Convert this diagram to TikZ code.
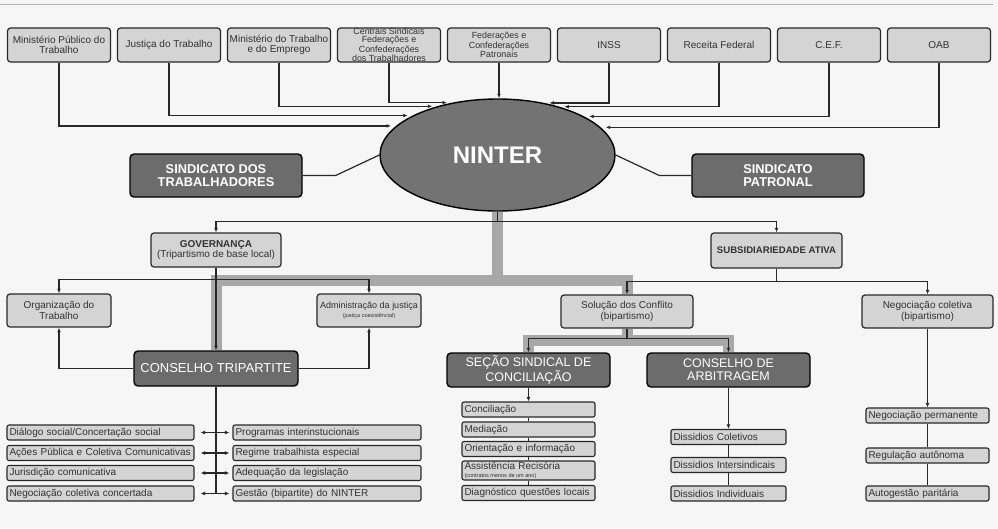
\documentclass[tikz,border=0pt]{standalone}
\usepackage{fontspec}
\setmainfont{Liberation Sans}
\usetikzlibrary{shapes.geometric,arrows.meta,positioning,calc}
\definecolor{pagebg}{RGB}{246,246,246}
\definecolor{boxlight}{RGB}{212,212,212}
\definecolor{boxdark}{RGB}{108,108,108}
\definecolor{ellipsegray}{RGB}{115,115,115}
\definecolor{bandgray}{RGB}{168,168,168}
\definecolor{linedark}{RGB}{40,40,40}
\definecolor{textdark}{RGB}{50,50,50}

\begin{document}
\begin{tikzpicture}[x=1pt, y=-1pt,
    topbox/.style={rectangle, rounded corners=3pt, draw=linedark, line width=1.2pt, fill=boxlight, text=textdark, align=center, inner sep=1pt, minimum width=103pt, minimum height=34pt, font=\fontsize{10}{10.5}\selectfont},
    tightbox/.style={topbox, inner sep=0pt, font=\fontsize{8.9}{7.8}\selectfont},
    midbox/.style={topbox, minimum height=33pt},
    darkbox/.style={rectangle, rounded corners=4pt, draw=black, line width=1.4pt, fill=boxdark, text=white, align=center, inner sep=1pt},
    listbox/.style={rectangle, rounded corners=2pt, draw=linedark, line width=1.1pt, fill=boxlight, text=textdark, align=left, inner xsep=2.5pt, inner ysep=1pt, minimum height=15pt, text width=#1, font=\fontsize{10}{11}\selectfont},
    wire/.style={draw=linedark, line width=1.2pt},
    flow/.style={wire, -{Latex[length=4.5pt,width=3.8pt]}},
    twoway/.style={wire, {Latex[length=4.5pt,width=3.8pt]}-{Latex[length=4.5pt,width=3.8pt]}},
    band/.style={draw=bandgray, line width=11pt}
]
    \fill[pagebg] (0,0) rectangle (998,528);
    \useasboundingbox (0,0) rectangle (998,528);
    \draw[gray!60, line width=0.8pt] (0,4) -- (993,4);

    % Instituicoes
    \node[topbox] (mpt) at (59,45) {Ministério Público do\\Trabalho};
    \node[topbox] (jt) at (169,45) {Justiça do Trabalho};
    \node[topbox] (mte) at (279,45) {Ministério do Trabalho\\e do Emprego};
    \node[tightbox] (centrais) at (389,45) {Centrais Sindicais\\Federações e\\Confederações\\dos Trabalhadores};
    \node[tightbox] (fed_pat) at (499,45) {Federações e\\Confederações\\Patronais};
    \node[topbox] (inss) at (609,45) {INSS};
    \node[topbox] (receita) at (719,45) {Receita Federal};
    \node[topbox] (cef) at (829,45) {C.E.F.};
    \node[topbox] (oab) at (939,45) {OAB};

    % NINTER e sindicatos
    \node[ellipse, draw=black, line width=1.4pt, fill=ellipsegray, minimum width=235pt, minimum height=112pt, inner sep=0pt, text=white, font=\fontsize{24}{24}\selectfont\bfseries] (ninter) at (497.5,155) {NINTER};
    \node[darkbox, minimum width=172pt, minimum height=43pt, font=\fontsize{12.8}{13}\selectfont\bfseries] (sind_trab) at (216,175.5) {SINDICATO DOS\\TRABALHADORES};
    \node[darkbox, minimum width=172pt, minimum height=43pt, font=\fontsize{12.8}{13}\selectfont\bfseries] (sind_pat) at (778,175.5) {SINDICATO\\PATRONAL};

    % Governanca e subsidiariedade
    \node[midbox, minimum width=130pt, minimum height=34pt] (governanca) at (216,250) {\textbf{GOVERNANÇA}\\(Tripartismo de base local)};
    \node[midbox, minimum width=131pt, minimum height=35pt, font=\fontsize{9.6}{11}\selectfont\bfseries] (subsidiariedade) at (776.5,250.5) {SUBSIDIARIEDADE ATIVA};

    \node[midbox, minimum width=104pt] (organizacao) at (59,310.5) {Organização do\\Trabalho};
    \node[midbox, minimum width=104pt, font=\fontsize{9}{8.5}\selectfont] (administracao) at (369,310.5) {Administração da justiça\\{\fontsize{5.5}{6}\selectfont(justiça coexistêncial)}};
    \node[midbox, minimum width=132pt] (solucao) at (627,311.5) {Solução dos Conflito\\(bipartismo)};
    \node[midbox, minimum width=131pt] (neg_coletiva) at (927.5,311.5) {Negociação coletiva\\(bipartismo)};

    % Conselhos
    \node[darkbox, minimum width=164pt, minimum height=35pt, font=\fontsize{13}{13}\selectfont] (conselho_tri) at (216,368.5) {CONSELHO TRIPARTITE};
    \node[darkbox, minimum width=163pt, minimum height=34pt, font=\fontsize{12.5}{13.3}\selectfont] (secao) at (528.5,370) {SEÇÃO SINDICAL DE\\CONCILIAÇÃO};
    \node[darkbox, minimum width=163pt, minimum height=34pt, font=\fontsize{12.5}{13.3}\selectfont] (arbitragem) at (728.5,370) {CONSELHO DE\\ARBITRAGEM};

    % Listas do conselho tripartite
    \node[listbox=182pt] (dialogo) at (100.5,432.5) {Diálogo social/Concertação social};
    \node[listbox=182pt] (acoes) at (100.5,453) {Ações Pública e Coletiva Comunicativas};
    \node[listbox=182pt] (jurisdicao) at (100.5,473) {Jurisdição comunicativa};
    \node[listbox=182pt] (neg_concertada) at (100.5,493.5) {Negociação coletiva concertada};
    \node[listbox=183pt] (programas) at (327,432.5) {Programas interinstucionais};
    \node[listbox=183pt] (regime) at (327,453) {Regime trabalhista especial};
    \node[listbox=183pt] (adequacao) at (327,473) {Adequação da legislação};
    \node[listbox=183pt] (gestao) at (327,493.5) {Gestão (bipartite) do NINTER};

    % Lista da secao sindical
    \node[listbox=128pt] (conciliacao) at (528.5,409.5) {Conciliação};
    \node[listbox=128pt] (mediacao) at (528.5,429.5) {Mediação};
    \node[listbox=128pt] (orientacao) at (528.5,449) {Orientação e informação};
    \node[listbox=128pt, minimum height=17pt, font=\fontsize{10}{8.5}\selectfont] (assistencia) at (528.5,470.5) {Assistência Recisória\\{\fontsize{5.5}{6}\selectfont\spaceskip=0pt (contratos menos de um ano)}};
    \node[listbox=128pt] (diagnostico) at (528.5,493) {Diagnóstico questões locais};

    % Lista da arbitragem
    \node[listbox=110pt] (diss_coletivos) at (728.5,437) {Dissidios Coletivos};
    \node[listbox=110pt] (diss_intersind) at (728.5,465) {Dissidios Intersindicais};
    \node[listbox=110pt] (diss_indiv) at (728.5,493.5) {Dissidios Individuais};

    % Lista da negociacao coletiva
    \node[listbox=118pt] (neg_permanente) at (927.5,415.5) {Negociação permanente};
    \node[listbox=118pt] (regulacao) at (927.5,455.5) {Regulação autônoma};
    \node[listbox=118pt] (autogestao) at (927.5,493.5) {Autogestão paritária};

    % Faixas cinzentas
    \draw[band] (ninter.south) -- ++(0,69) coordinate (band_split);
    \draw[band] (band_split) -| (conselho_tri.north);
    \draw[band] (band_split) -| (solucao.north);
    \draw[band] (solucao.south) -- ++(0,12) coordinate (band_sol);
    \draw[band] (band_sol) -| (secao.north);
    \draw[band] (band_sol) -| (arbitragem.north);

    % Entradas no NINTER
    \draw[flow, shorten >=5pt] (mpt.south) |- (ninter.164.62);
    \draw[flow, shorten >=5pt] (jt.south) |- (ninter.155.18);
    \draw[flow, shorten >=5pt] (mte.south) |- (ninter.141.58);
    \draw[flow, shorten >=5pt] (centrais.south) |- (ninter.131.4);
    \draw[flow] (fed_pat.south) -- (fed_pat.south |- ninter.north);
    \draw[flow, shorten >=5pt] (inss.south) |- (ninter.48.6);
    \draw[flow, shorten >=5pt] (receita.south) |- (ninter.38.42);
    \draw[flow, shorten >=5pt] (cef.south) |- (ninter.24.82);
    \draw[flow, shorten >=5pt] (oab.south) |- (ninter.15.38);
    \draw[wire] (sind_trab.east) -- ++(33,0) -- (ninter.west);
    \draw[wire] (sind_pat.west) -- ++(-32,0) -- (ninter.east);

    % Saidas do NINTER
    \draw[wire] (ninter.south) -- ++(0,10) coordinate (split_top);
    \draw[flow] (split_top) -| (governanca.north);
    \draw[flow] (split_top) -| (subsidiariedade.north);
    \draw[flow] (governanca.south) -- (conselho_tri.north);
    \draw[wire] (governanca.south) -- ++(0,12) coordinate (split_gov);
    \draw[flow] (split_gov) -| (organizacao.north);
    \draw[flow] (split_gov) -| (administracao.north);
    \draw[wire] (subsidiariedade.south) -- ++(0,13) coordinate (split_sub);
    \draw[flow] (split_sub) -| (solucao.north);
    \draw[flow] (split_sub) -| (neg_coletiva.north);
    \draw[flow] (conselho_tri.west) -| (organizacao.south);
    \draw[flow] (conselho_tri.east) -| (administracao.south);
    \draw[wire] (solucao.south) -- ++(0,10) coordinate (split_sol);
    \draw[flow] (split_sol) -| (secao.north);
    \draw[flow] (split_sol) -| (arbitragem.north);

    % Ligacoes das listas
    \draw[wire] (conselho_tri.south) -- (conselho_tri.south |- neg_concertada.east);
    \draw[twoway, shorten <=6pt, shorten >=3pt] (dialogo.east) -- (programas.west);
    \draw[twoway, shorten <=6pt, shorten >=3pt] (acoes.east) -- (regime.west);
    \draw[twoway, shorten <=6pt, shorten >=3pt] (jurisdicao.east) -- (adequacao.west);
    \draw[twoway, shorten <=6pt, shorten >=3pt] (neg_concertada.east) -- (gestao.west);
    \draw[flow] (secao.south) -- (conciliacao.north);
    \draw[wire] (conciliacao) -- (mediacao);
    \draw[wire] (mediacao) -- (orientacao);
    \draw[wire] (orientacao) -- (assistencia);
    \draw[wire] (assistencia) -- (diagnostico);
    \draw[flow] (arbitragem.south) -- (diss_coletivos.north);
    \draw[wire] (diss_coletivos) -- (diss_intersind);
    \draw[wire] (diss_intersind) -- (diss_indiv);
    \draw[flow] (neg_coletiva.south) -- (neg_permanente.north);
    \draw[wire] (neg_permanente) -- (regulacao);
    \draw[wire] (regulacao) -- (autogestao);
\end{tikzpicture}
\end{document}
